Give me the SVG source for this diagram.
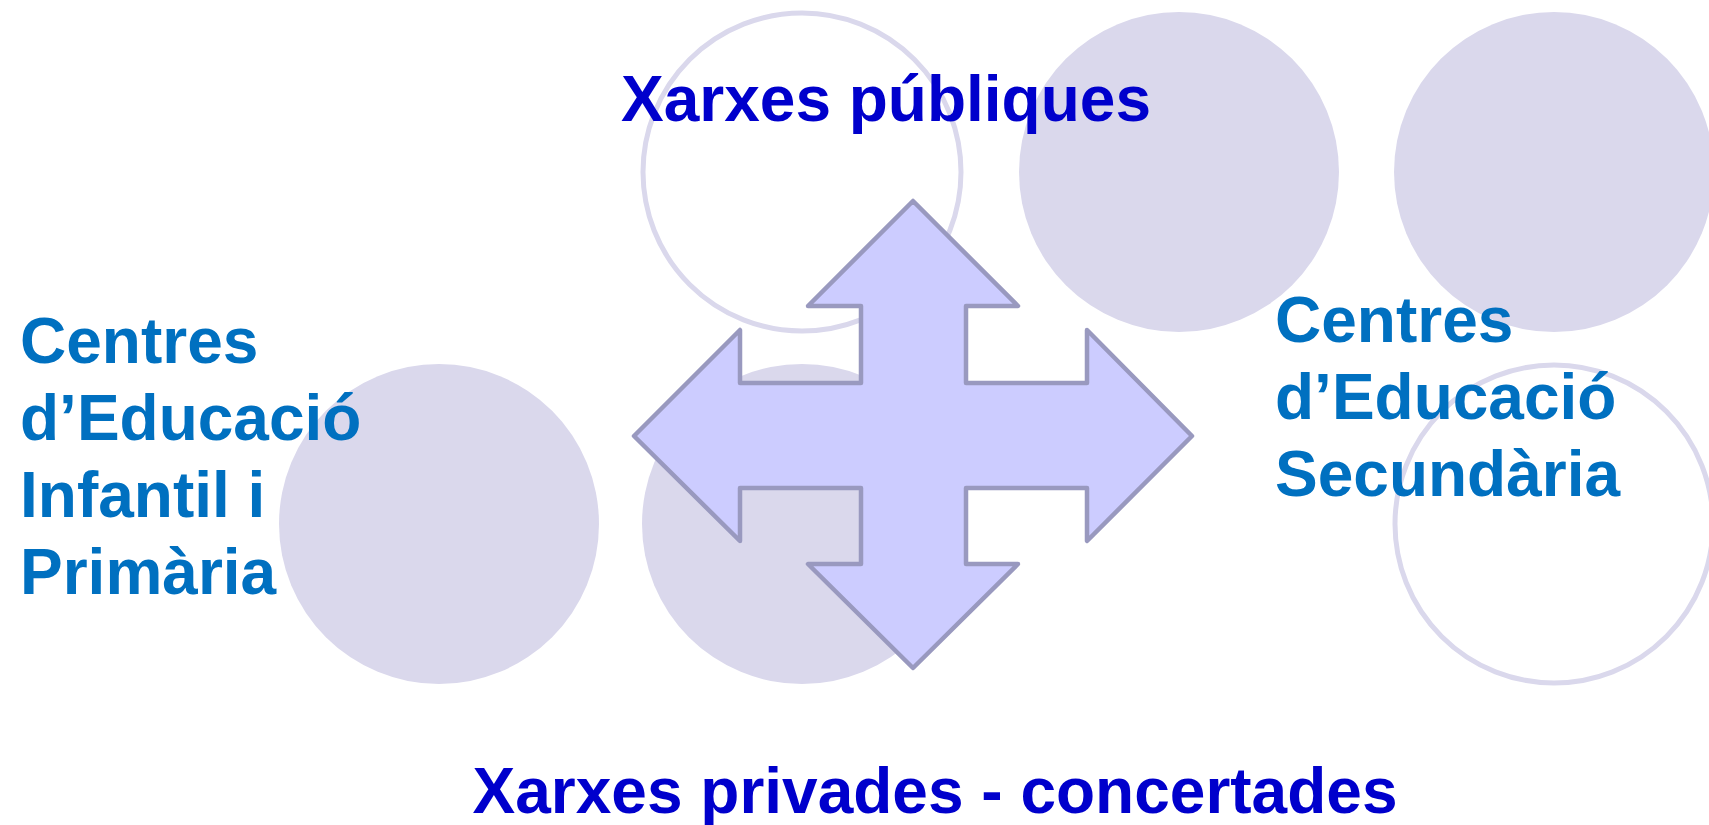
<svg xmlns="http://www.w3.org/2000/svg" width="1709" height="825" viewBox="0 0 1709 825">
  <style>
    .fill { fill: #DAD8EC; }
    .ring { fill: none; stroke: #DAD8EC; stroke-width: 5; }
    .t { font-family: "Liberation Sans", Arial, sans-serif; font-weight: bold; font-size: 64px; }
    .net { fill: #0000CC; }
    .ctr { fill: #0070C0; }
    .quad { fill: #CCCCFF; stroke: #9999BF; stroke-width: 4.5; stroke-linejoin: round; }
  </style>
  <rect width="1709" height="825" fill="#FFFFFF"/>
  <g id="circles">
    <circle class="ring" cx="802" cy="172" r="159"/>
    <circle class="fill" cx="1179" cy="172" r="160"/>
    <circle class="fill" cx="1554" cy="172" r="160"/>
    <circle class="fill" cx="439" cy="524" r="160"/>
    <circle class="fill" cx="802" cy="524" r="160"/>
    <circle class="ring" cx="1554" cy="524" r="159"/>
  </g>
  <g id="connectors">
    <path class="quad" d="M913,201 L1018,306 L966,306 L966,383 L1087,383 L1087,330 L1192,436 L1087,541 L1087,488 L966,488 L966,564 L1018,564 L913,668 L808,564 L861,564 L861,488 L740,488 L740,541 L634,436 L740,330 L740,383 L861,383 L861,306 L808,306 Z"/>
  </g>
  <g id="xarxes-publiques">
    <text class="t net" x="886" y="121" text-anchor="middle">Xarxes públiques</text>
  </g>
  <g id="xarxes-privades">
    <text class="t net" x="935" y="813" text-anchor="middle">Xarxes privades - concertades</text>
  </g>
  <g id="centres-infantil-primaria">
    <text class="t ctr" x="20">
      <tspan x="20" y="363">Centres</tspan>
      <tspan x="20" y="440">d’Educació</tspan>
      <tspan x="20" y="517">Infantil i</tspan>
      <tspan x="20" y="594">Primària</tspan>
    </text>
  </g>
  <g id="centres-secundaria">
    <text class="t ctr" x="1275">
      <tspan x="1275" y="342">Centres</tspan>
      <tspan x="1275" y="419">d’Educació</tspan>
      <tspan x="1275" y="496">Secundària</tspan>
    </text>
  </g>
</svg>
